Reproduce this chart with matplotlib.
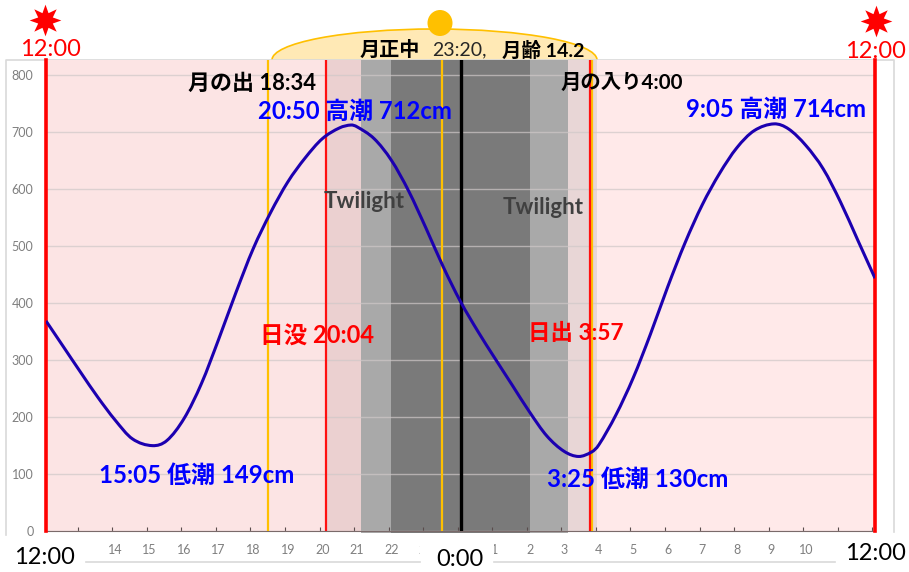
"""
潮汐グラフ 12:00-12:00 (月・日の出入り、薄明の帯つき)
"""

import matplotlib
matplotlib.use("Agg")

import matplotlib.pyplot as plt
from matplotlib.patches import Ellipse, PathPatch, Rectangle
from matplotlib.path import Path

plt.rcParams["font.family"] = ["Lato", "Noto Sans CJK JP", "DejaVu Sans"]

W, H = 909, 572

# 潮位 (時刻は 12 起点の通し時間、24 = 0:00)
hours = [12, 12.5, 13, 13.5, 14, 14.5, 15.08, 15.5, 16, 16.5, 17, 17.5, 18, 18.5,
         19, 19.5, 20, 20.5, 20.83, 21, 21.5, 22, 22.5, 23, 23.5, 24, 24.5, 25, 25.5,
         26, 26.5, 27, 27.42, 27.8, 28, 28.5, 29, 29.5, 30, 30.5, 31, 31.5, 32, 32.5,
         33.08, 33.5, 34, 34.5, 35, 35.5, 36]
tide = [368, 323, 278, 234, 194, 161, 149, 158, 197, 258, 336, 418, 495, 558,
        612, 654, 688, 707, 712, 709, 688, 650, 596, 531, 463, 402, 350, 302, 255,
        208, 166, 139, 130, 138, 150, 203, 268, 345, 428, 505, 572, 627, 672, 702,
        714, 705, 676, 635, 577, 510, 443]

# 背景の帯
band_start = [12, 20.1, 21.12, 22, 26, 27.1, 27.95]
band_end = [20.1, 21.12, 22, 26, 27.1, 27.95, 36]
band_colors = ["#fce4e4", "#ebd0d0", "#a9a9a9", "#7a7a7a", "#a9a9a9", "#e8d6d6", "#ffe9e9"]

# 縦線
moon_lines = [18.43, 23.46, 27.8]
sun_lines = [20.1, 27.75]
edge_lines = [12, 36]
midnight = 24

y_ticks = [0, 100, 200, 300, 400, 500, 600, 700, 800]
x_ticks = [14, 15, 16, 17, 18, 19, 20, 21, 22, 23, 25, 26, 27, 28, 29, 30, 31, 32, 33, 34]
x_labels = ["14", "15", "16", "17", "18", "19", "20", "21", "22", "23",
            "1", "2", "3", "4", "5", "6", "7", "8", "9", "10"]
tick_marks = [h - 0.08 for h in range(13, 37)]


def smooth_path(xs, ys):
    # 読み取り点を通るベジェ曲線 (Excel の平滑線の代わり)
    slopes = []
    for i in range(len(xs)):
        a, b = max(i - 1, 0), min(i + 1, len(xs) - 1)
        slopes.append((ys[b] - ys[a]) / (xs[b] - xs[a]))
    verts = [(xs[0], ys[0])]
    codes = [Path.MOVETO]
    for i in range(len(xs) - 1):
        d = (xs[i + 1] - xs[i]) / 3
        verts += [(xs[i] + d, ys[i] + slopes[i] * d),
                  (xs[i + 1] - d, ys[i + 1] - slopes[i + 1] * d),
                  (xs[i + 1], ys[i + 1])]
        codes += [Path.CURVE4] * 3
    return Path(verts, codes)


fig = plt.figure(figsize=(W / 100, H / 100), dpi=100, facecolor="white")

# 枠と月の弧 (px 座標)
bg = fig.add_axes([0, 0, 1, 1], zorder=0)
bg.set_xlim(0, W)
bg.set_ylim(H, 0)
bg.axis("off")
bg.add_patch(Ellipse((434.5, 60), 325, 62, facecolor="#ffe9b5", edgecolor="#ffc000", lw=1.2))
bg.plot([6, 6, 894, 894], [535, 60, 60, 532], color="#d9d9d9", lw=1.2)

# グラフ本体
ax = fig.add_axes([46 / W, 1 - 530.5 / H, 829 / W, 470.5 / H], zorder=1)
ax.set_xlim(12, 36)
ax.set_ylim(0, 470.5 / 0.5695)
ax.patch.set_alpha(0)
for s, e, c in zip(band_start, band_end, band_colors):
    low = -0.006 if c in ("#a9a9a9", "#7a7a7a") else 0
    ax.axvspan(s, e, ymin=low, color=c, lw=0, clip_on=False)

ax.grid(axis="y", color="#cfc8c8", alpha=0.7, lw=1)
ax.set_yticks(y_ticks)
ax.set_xticks(x_ticks)
ax.set_xticklabels(x_labels)
ax.set_xticks(tick_marks, minor=True)
ax.tick_params(axis="y", length=0, pad=9, labelsize=9, labelcolor="#7f7f7f")
ax.tick_params(axis="x", which="major", length=0, pad=10, labelsize=9, labelcolor="#7f7f7f")
ax.tick_params(axis="x", which="minor", direction="in", length=3, width=0.8, color="#594c4c")
for name in ("top", "left", "right"):
    ax.spines[name].set_visible(False)
ax.spines["bottom"].set_color("#7a6a6a")

for h in moon_lines:
    ax.axvline(h, color="#ffc000", lw=1.6, zorder=3)
for h in sun_lines:
    ax.axvline(h, color="#ff1010", lw=1.6, zorder=3)
for h in edge_lines:
    ax.axvline(h, color="#ff0000", lw=2.6, zorder=3, clip_on=False)
ax.axvline(midnight, color="black", lw=2.4, zorder=3)
ax.add_patch(PathPatch(smooth_path(hours, tide), facecolor="none", edgecolor="#1c00b0",
                       lw=2.2, zorder=4, joinstyle="round"))

# 注記 (px 座標)
top = fig.add_axes([0, 0, 1, 1], zorder=2)
top.set_xlim(0, W)
top.set_ylim(H, 0)
top.axis("off")
top.patch.set_alpha(0)
top.add_patch(Rectangle((420, 534), 74, 38, facecolor="white", edgecolor="none"))
top.plot([86, 420], [562, 562], color="#d9d9d9", lw=1.2)
top.plot([494, 835], [562, 562], color="#d9d9d9", lw=1.2)
top.add_patch(Ellipse((440, 23), 25, 26, facecolor="#ffc000", edgecolor="none"))
top.scatter([45, 876], [20, 21], marker=(8, 1, 0), s=520, color="#ff0000", lw=0)


def label(x, y, s, color="black", size=16, bold=True, ha="left"):
    top.text(x, y, s, color=color, fontsize=size, fontweight="bold" if bold else "normal",
             ha=ha, va="center")


label(50.5, 49, "12:00", "#ff0000", 17, False, "center")
label(875, 52, "12:00", "#ff0000", 17, False, "center")
label(44, 557, "12:00", "black", 17, False, "center")
label(875, 553, "12:00", "black", 17, False, "center")
label(460, 559, "0:00", "black", 17, False, "center")

label(360, 50, "月正中", "black", 14.5)
label(432, 50, "23:20,", "#262626", 14, False)
label(502, 50, "月齢 14.2", "black", 14)
label(188, 83, "月の出 18:34", "black", 15.8)
label(561, 83, "月の入り4:00", "black", 14.7)

label(258, 111, "20:50 高潮 712cm", "#0000ff", 17.2)
label(686, 109, "9:05 高潮 714cm", "#0000ff", 17.2)
label(99, 475, "15:05 低潮 149cm", "#0000ff", 17.3)
label(547, 479, "3:25 低潮 130cm", "#0000ff", 17.3)
label(260, 335, "日没 20:04", "#ff0000", 17)
label(528, 333, "日出 3:57", "#ff0000", 16.2)
label(324, 201, "Twilight", "#404040", 16)
label(503, 208, "Twilight", "#404040", 16)

fig.savefig("out.png", dpi=100)
